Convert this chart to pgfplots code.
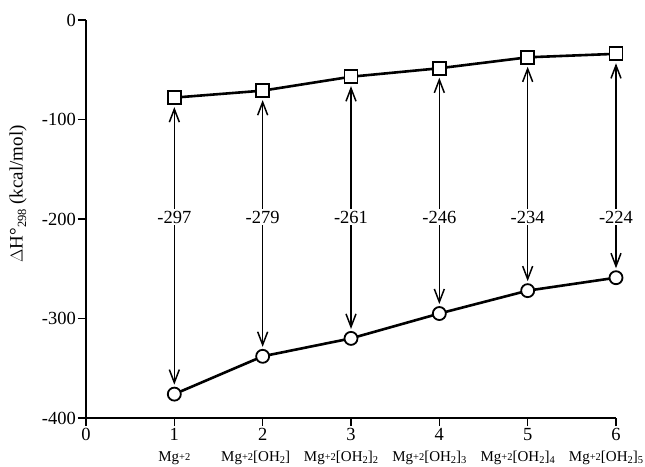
\documentclass[border=0pt]{standalone}
\usepackage{pgfplots}
\pgfplotsset{compat=1.18}
\usetikzlibrary{arrows.meta}
\usepackage{fontspec}
\setmainfont{Liberation Serif}
\newcommand{\sm}[1]{{\fontsize{10.5}{10.5}\selectfont #1}}
\newcommand{\mgl}[1]{\mbox{\kern-20pt Mg\raisebox{0.15ex}{\sm{+2}}[OH\raisebox{-0.35ex}{\sm{2}}]\raisebox{-0.35ex}{\sm{#1}}}}
\newcommand{\mgo}{\mbox{Mg\raisebox{0.15ex}{\sm{+2}}[OH\raisebox{-0.35ex}{\sm{2}}]}}
\newcommand{\ff}{\fontsize{15}{21}\selectfont}
\tikzset{dbl/.style={{Straight Barb[length=13pt,width=10pt,line width=1.5pt]}-{Straight Barb[length=13pt,width=10pt,line width=1.5pt]}, line width=1.3pt}}
\begin{document}
\begin{tikzpicture}
\useasboundingbox (-86pt,-48pt) rectangle (559pt,418pt);
\begin{axis}[
  at={(0pt,0pt)}, anchor=south west,
  scale only axis, width=530pt, height=398pt,
  xmin=0, xmax=6, ymin=-400, ymax=0,
  axis x line*=bottom, axis y line*=left,
  axis line style={line width=1.6pt, black},
  xtick={0,1,2,3,4,5,6},
  ytick={-400,-300,-200,-100,0},
  yticklabels={-400,-300,-200,-100,0},
  xticklabels={0,{1\\{\ff Mg\raisebox{0.15ex}{\sm{+2}}}},{2\\{\ff\mbox{\kern-14pt\mgo}}},{3\\{\ff\mgl{2}}},{4\\{\ff\mgl{3}}},{5\\{\ff\mgl{4}}},{6\\{\ff\mgl{5}}}},
  tick align=outside, major tick length=8pt,
  tick style={line width=1.6pt, black},
  ticklabel style={font=\fontsize{18.5}{21}\selectfont},
  xticklabel style={align=center, anchor=north, inner sep=2pt},
  yticklabel style={inner sep=2pt},
  ylabel={$\Delta$H°\raisebox{-0.4ex}{\fontsize{12.5}{12.5}\selectfont 298} (kcal/mol)},
  ylabel style={at={(axis description cs:-0.128,0.563)}, anchor=center, rotate=0, font=\fontsize{19}{21}\selectfont},
  clip=false,
]
\draw[dbl] (axis cs:1,-87.5) -- (axis cs:1,-366.5);
\draw[dbl] (axis cs:2,-80.5) -- (axis cs:2,-328.5);
\draw[dbl] (axis cs:3,-66.5) -- (axis cs:3,-310.5);
\draw[dbl] (axis cs:4,-58) -- (axis cs:4,-285.5);
\draw[dbl] (axis cs:5,-47) -- (axis cs:5,-262.5);
\draw[dbl] (axis cs:6,-43.5) -- (axis cs:6,-249.5);
\foreach \xx/\lab in {1/-297,2/-279,3/-261,4/-246,5/-234,6/-224}{
  \edef\temp{\noexpand\node[fill=white, inner sep=1.5pt, font=\noexpand\fontsize{18.5}{21}\noexpand\selectfont] at (axis cs:\xx,-198) {\lab};}
  \temp
}
\addplot[black, line width=2.6pt, mark=square*, mark size=6.5pt, mark options={line width=1.8pt, fill=white, solid}]
  coordinates {(1,-78) (2,-71) (3,-57) (4,-48.5) (5,-37.5) (6,-34)};
\addplot[black, line width=2.6pt, mark=*, mark size=6.5pt, mark options={line width=1.8pt, fill=white, solid}]
  coordinates {(1,-376) (2,-338) (3,-320) (4,-295) (5,-272) (6,-259)};
\end{axis}
\end{tikzpicture}
\end{document}
